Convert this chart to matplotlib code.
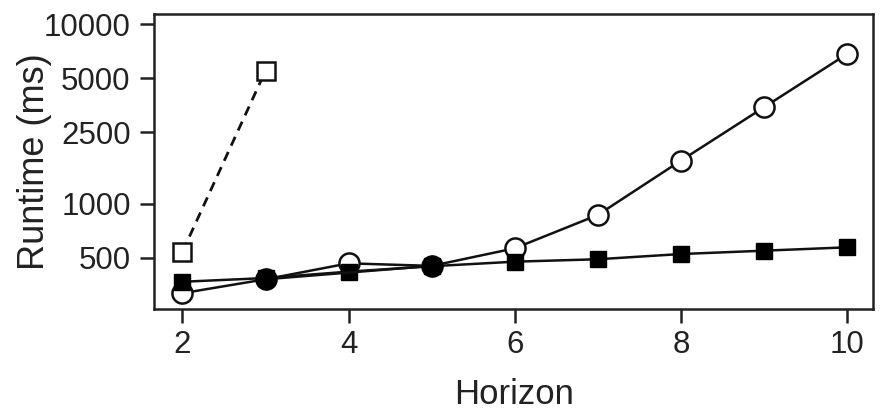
import matplotlib
matplotlib.use("Agg")
import matplotlib.pyplot as plt

plt.rcParams['font.family'] = ['Liberation Sans', 'DejaVu Sans']

horizon = [2, 3, 4, 5, 6, 7, 8, 9, 10]
open_circle = [317, 379, 465, 450, 564, 865, 1737, 3445, 6828]
filled_square = [367, 385, 418, 448, 475, 490, 524, 547, 571]
filled_circle_x = [3, 5]
filled_circle = [379, 450]
open_square_x = [2, 3]
open_square = [540, 5512]

yticks = [500, 1000, 2500, 5000, 10000]
xticks = [2, 4, 6, 8, 10]

fig = plt.figure(figsize=(8.83, 4.13), dpi=100)
ax = fig.add_axes([0.1747, 0.252, 0.989 - 0.1747, 0.966 - 0.252])

lw = 1.8
ax.plot(open_square_x, open_square, linestyle=(0, (3.5, 2.5)), color='#111', lw=2.0,
        marker='s', markersize=12.5, markerfacecolor='white', markeredgecolor='#111',
        markeredgewidth=1.8, zorder=3)
ax.plot(horizon, open_circle, '-', color='#111', lw=lw, marker='o', markersize=14.5,
        markerfacecolor='white', markeredgecolor='#111', markeredgewidth=1.8, zorder=4)
ax.plot(horizon, filled_square, '-', color='#111', lw=lw, marker='s', markersize=11.5,
        markerfacecolor='black', markeredgecolor='black', zorder=5)
ax.plot(filled_circle_x, filled_circle, '-', color='#111', lw=lw, marker='o', markersize=14.5,
        markerfacecolor='black', markeredgecolor='black', zorder=6)

ax.set_yscale('log')
ax.set_ylim(259, 11410)
ax.set_xlim(1.66, 10.317)
ax.set_yticks(yticks)
ax.set_yticklabels([str(v) for v in yticks])
ax.minorticks_off()
ax.set_xticks(xticks)
ax.set_xticklabels([str(v) for v in xticks])

ax.tick_params(axis='both', length=10, width=1.8, labelsize=22.5, colors='#222')
ax.tick_params(axis='y', pad=7)
ax.tick_params(axis='x', pad=5)
for s in ax.spines.values():
    s.set_linewidth(1.8)
    s.set_color('#222')

ax.set_xlabel('Horizon', fontsize=25, color='#222', labelpad=13)
ax.set_ylabel('Runtime (ms)', fontsize=26, color='#222')
ax.yaxis.set_label_coords(-0.142, 0.5)

fig.savefig('out.png', dpi=100)
